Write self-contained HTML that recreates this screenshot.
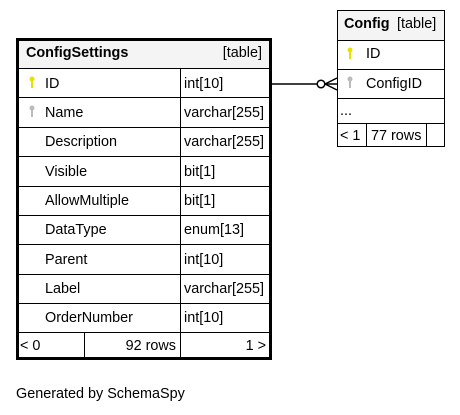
<!DOCTYPE html>
<html><head><meta charset="utf-8"><style>
html,body{margin:0;padding:0;background:#fff;width:460px;height:415px;overflow:hidden}
text{font-family:"Liberation Sans",Arial,sans-serif;font-size:14.4px;fill:#000}
</style></head><body>
<svg width="460" height="415" viewBox="0 0 460 415" xmlns="http://www.w3.org/2000/svg">
<rect x="17" y="39" width="254" height="29" fill="#f4f4f4"/>
<g stroke="#000" stroke-width="1" fill="none">
<line x1="17" y1="68.5" x2="271" y2="68.5"/>
<line x1="17" y1="97.5" x2="271" y2="97.5"/>
<line x1="17" y1="127.5" x2="271" y2="127.5"/>
<line x1="17" y1="156.5" x2="271" y2="156.5"/>
<line x1="17" y1="186.5" x2="271" y2="186.5"/>
<line x1="17" y1="215.5" x2="271" y2="215.5"/>
<line x1="17" y1="244.5" x2="271" y2="244.5"/>
<line x1="17" y1="274.5" x2="271" y2="274.5"/>
<line x1="17" y1="303.5" x2="271" y2="303.5"/>
<line x1="17" y1="332.5" x2="271" y2="332.5"/>
<line x1="180.5" y1="68" x2="180.5" y2="358"/>
<line x1="84.5" y1="332" x2="84.5" y2="358"/>
</g>
<rect x="17.5" y="39.5" width="253" height="319" fill="none" stroke="#000" stroke-width="3"/>
<text x="26" y="57" font-weight="bold">ConfigSettings</text>
<text x="262" y="57" text-anchor="end">[table]</text>
<g>
<text x="45" y="88">ID</text><text x="184" y="88">int[10]</text>
<text x="45" y="117">Name</text><text x="184" y="117">varchar[255]</text>
<text x="45" y="146">Description</text><text x="184" y="146">varchar[255]</text>
<text x="45" y="176">Visible</text><text x="184" y="176">bit[1]</text>
<text x="45" y="205">AllowMultiple</text><text x="184" y="205">bit[1]</text>
<text x="45" y="234">DataType</text><text x="184" y="234">enum[13]</text>
<text x="45" y="264">Parent</text><text x="184" y="264">int[10]</text>
<text x="45" y="293">Label</text><text x="184" y="293">varchar[255]</text>
<text x="45" y="322">OrderNumber</text><text x="184" y="322">int[10]</text>
<text x="20" y="350">&lt; 0</text><text x="176" y="350" text-anchor="end">92 rows</text><text x="266" y="350" text-anchor="end">1 &gt;</text>
</g>
<g>
<circle cx="32" cy="79" r="2.5" fill="#e8e000"/><rect x="31" y="79" width="2" height="9" fill="#e8e000"/>
<circle cx="32" cy="108" r="2.5" fill="#bbb"/><rect x="31" y="108" width="2" height="9" fill="#bbb"/>
<circle cx="350" cy="50" r="2.5" fill="#e8e000"/><rect x="349" y="50" width="2" height="9" fill="#e8e000"/>
<circle cx="350" cy="79" r="2.5" fill="#bbb"/><rect x="349" y="79" width="2" height="9" fill="#bbb"/>
</g>
<rect x="338" y="11" width="106" height="29" fill="#f4f4f4"/>
<g stroke="#000" stroke-width="1" fill="none">
<rect x="337.5" y="10.5" width="107" height="136"/>
<line x1="337" y1="40.5" x2="445" y2="40.5"/>
<line x1="337" y1="69.5" x2="445" y2="69.5"/>
<line x1="337" y1="98.5" x2="445" y2="98.5"/>
<line x1="337" y1="123.5" x2="445" y2="123.5"/>
<line x1="366.5" y1="123" x2="366.5" y2="147"/>
<line x1="426.5" y1="123" x2="426.5" y2="147"/>
</g>
<text x="344" y="28" font-weight="bold">Config</text>
<text x="397" y="28">[table]</text>
<text x="366" y="58">ID</text>
<text x="366" y="88">ConfigID</text>
<text x="340" y="115">...</text>
<text x="340" y="140">&lt; 1</text>
<text x="371" y="140">77 rows</text>
<g stroke="#000" stroke-width="1.5" fill="none">
<line x1="272" y1="84" x2="317" y2="84"/>
<circle cx="321" cy="84" r="3.8" fill="#fff"/>
<line x1="325" y1="84" x2="337" y2="84"/>
<line x1="325" y1="84" x2="337" y2="78"/>
<line x1="325" y1="84" x2="337" y2="90"/>
</g>
<text x="16" y="398">Generated by SchemaSpy</text>
</svg>
</body></html>
